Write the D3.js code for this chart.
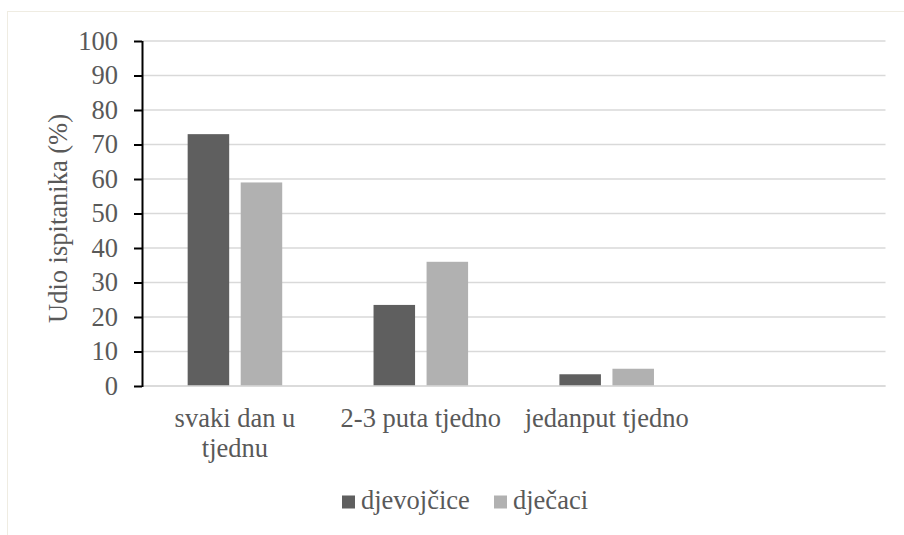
<!DOCTYPE html>
<html>
<head>
<meta charset="utf-8">
<script src="https://cdn.jsdelivr.net/npm/d3@7"></script>
<style>
  html, body { margin: 0; padding: 0; background: #ffffff; }
  svg { display: block; }
  text { font-family: "Liberation Serif", "Times New Roman", Times, Tinos, "DejaVu Serif", serif; fill: #595959; }
</style>
</head>
<body>
<svg id="chart" width="904" height="535"></svg>
<script>
const categories = ["svaki dan u tjednu", "2-3 puta tjedno", "jedanput tjedno", ""];
const categoryLines = [["svaki dan u", "tjednu"], ["2-3 puta tjedno"], ["jedanput tjedno"], []];
const seriesNames = ["djevojčice", "dječaci"];
const djevojcice = [73, 23.5, 3.4, null];
const djecaci = [59, 36, 5, null];
const seriesValues = [djevojcice, djecaci];
const seriesColors = ["#5f5f5f", "#b1b1b1"];
const yTicks = [0, 10, 20, 30, 40, 50, 60, 70, 80, 90, 100];
const yLabel = "Udio ispitanika (%)";

const FONT = "'Liberation Serif', 'Times New Roman', Times, Tinos, 'DejaVu Serif', serif";
const FS = "26.5px";
const svg = d3.select("#chart");
const plot = { left: 142, right: 885.5, top: 41, bottom: 386 };

// frame
svg.append("rect")
  .attr("x", 7.5).attr("y", 11.5)
  .attr("width", 1000).attr("height", 1000)
  .attr("fill", "none").attr("stroke", "#efece2").attr("stroke-width", 1);

const x0 = d3.scaleBand().domain(categories).range([plot.left, plot.right]).paddingInner(0).paddingOuter(0);
const x1 = d3.scaleBand().domain(seriesNames).range([0, x0.bandwidth()]).paddingInner(0.217).paddingOuter(0.861);
const y = d3.scaleLinear().domain([0, 100]).range([plot.bottom, plot.top]);

// gridlines
svg.append("g").selectAll("line").data(yTicks).join("line")
  .attr("x1", plot.left).attr("x2", plot.right)
  .attr("y1", d => y(d)).attr("y2", d => y(d))
  .attr("stroke", "#d9d9d9").attr("stroke-width", 1.5);

// bars
const groups = svg.append("g").selectAll("g").data(categories).join("g")
  .attr("transform", d => `translate(${x0(d)},0)`);
groups.selectAll("rect")
  .data((d, i) => seriesNames.map((s, j) => ({ s, v: seriesValues[j][i], c: seriesColors[j] })).filter(e => e.v != null))
  .join("rect")
  .attr("x", d => x1(d.s))
  .attr("width", x1.bandwidth())
  .attr("y", d => y(d.v))
  .attr("height", d => y(0) - y(d.v))
  .attr("fill", d => d.c);

// zero line
svg.append("line")
  .attr("x1", plot.left).attr("x2", plot.right)
  .attr("y1", y(0)).attr("y2", y(0))
  .attr("stroke", "#d9d9d9").attr("stroke-width", 1.5);

// y axis
const yAxis = d3.axisLeft(y).tickValues(yTicks).tickSize(8).tickPadding(16).tickFormat(d3.format("d"));
const gy = svg.append("g").attr("transform", `translate(${plot.left},0)`).call(yAxis);
gy.attr("font-family", null);
gy.select(".domain").attr("stroke", "#000").attr("stroke-width", 2).attr("d", `M0.5,${plot.top}V${plot.bottom + 1}`);
gy.selectAll(".tick line").attr("stroke", "#000").attr("stroke-width", 2);
gy.selectAll(".tick text")
  .style("font-family", FONT)
  .style("font-size", FS).attr("fill", "#595959");

// x labels
const xl = svg.append("g").selectAll("text").data(categories).join("text")
  .attr("x", d => x0(d) + x0.bandwidth() / 2)
  .attr("y", 427)
  .attr("text-anchor", "middle")
  .style("font-family", FONT)
  .style("font-size", FS);
xl.each(function(d, i) {
  const t = d3.select(this);
  categoryLines[i].forEach((ln, k) => {
    t.append("tspan").attr("x", x0(d) + x0.bandwidth() / 2).attr("dy", k === 0 ? 0 : 30).text(ln);
  });
});

// y label
svg.append("text")
  .attr("transform", `translate(67,${(plot.top + plot.bottom) / 2 + 5}) rotate(-90)`)
  .attr("text-anchor", "middle")
  .style("font-family", FONT)
  .style("font-size", FS)
  .text(yLabel);

// legend
const legendX = [342, 494];
const leg = svg.append("g").selectAll("g").data(seriesNames).join("g")
  .attr("transform", (d, i) => `translate(${legendX[i]},495.5)`);
leg.append("rect").attr("width", 13).attr("height", 13).attr("fill", (d, i) => seriesColors[i]);
leg.append("text").attr("x", 19).attr("y", 13)
  .style("font-family", FONT).style("font-size", FS).text(d => d);
</script>
</body>
</html>
